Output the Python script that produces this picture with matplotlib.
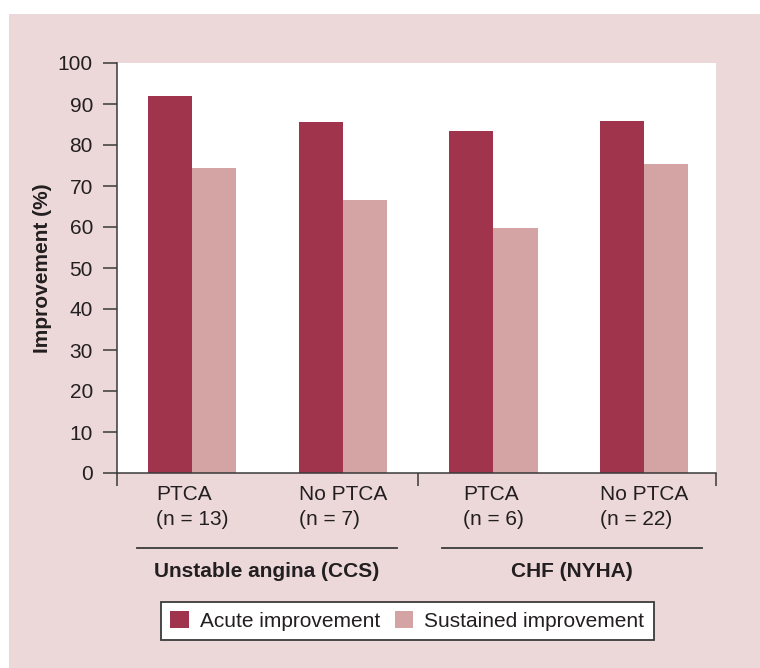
import matplotlib
matplotlib.use('Agg')
import matplotlib.pyplot as plt
import matplotlib.transforms as mtransforms
from matplotlib.patches import Rectangle
from matplotlib.lines import Line2D
import numpy as np

plt.rcParams['font.family'] = ['Liberation Sans', 'DejaVu Sans']

# Data
subgroups = ['PTCA\n(n = 13)', 'No PTCA\n(n = 7)', 'PTCA\n(n = 6)', 'No PTCA\n(n = 22)']
groups = ['Unstable angina (CCS)', 'CHF (NYHA)']
acute = [92.0, 85.6, 83.4, 85.9]
sustained = [74.4, 66.6, 59.8, 75.4]
series_labels = ['Acute improvement', 'Sustained improvement']

acute_color = '#a0344c'
sustained_color = '#d4a3a3'
bg_color = '#ecd8d8'
text_color = '#231f20'
line_color = '#3a3a3a'
fs = 15

fig = plt.figure(figsize=(7.6, 6.68), dpi=100, facecolor='white')
# pink panel behind the chart
fig.patches.append(Rectangle((9 / 760, 0), 1, 1 - 14 / 668, transform=fig.transFigure,
                             facecolor=bg_color, edgecolor='none', zorder=-10))

ax = fig.add_axes([117 / 760, 1 - 473 / 668, 599 / 760, 410 / 668])
ax.set_facecolor('white')

x = np.arange(len(subgroups))
width = 0.294
ax.bar(x - width / 2, acute, width, color=acute_color, label=series_labels[0])
ax.bar(x + width / 2, sustained, width, color=sustained_color, label=series_labels[1])

ax.set_xlim(-0.5, 3.48)
ax.set_ylim(0, 100)
ax.set_yticks(np.arange(0, 101, 10))
ax.set_xticks([-0.5, 1.5, 3.48])
ax.set_xticklabels([])

for side in ['top', 'right']:
    ax.spines[side].set_visible(False)
for side in ['left', 'bottom']:
    ax.spines[side].set_color(line_color)
    ax.spines[side].set_linewidth(1.1)

ax.tick_params(axis='y', direction='out', length=10.3, width=1.1, color=line_color,
               labelsize=fs, labelcolor=text_color, pad=7)
ax.tick_params(axis='x', direction='out', length=9.5, width=1.1, color=line_color)

ax.set_ylabel('Improvement (%)', fontsize=fs, fontweight='bold', color=text_color)
ax.yaxis.set_label_coords(-0.1085, 0.5)

trans = mtransforms.blended_transform_factory(ax.transData, ax.transAxes)
for xi, lab in zip(x, subgroups):
    ax.text(xi, -0.083, lab, transform=trans, ha='center', va='center',
            multialignment='left', fontsize=fs, color=text_color, linespacing=1.45)

# group underlines and labels
spans = [(-0.37, 1.36), (1.66, 3.39)]
for (a, b), g in zip(spans, groups):
    ax.add_line(Line2D([a, b], [-0.183, -0.183], transform=trans, color=line_color,
                       linewidth=1.3, clip_on=False))
    ax.text((a + b) / 2, -0.241, g, transform=trans, ha='center', va='center',
            fontsize=fs, fontweight='bold', color=text_color)

leg = ax.legend(loc='center', bbox_to_anchor=(407.5 / 760, 1 - 621 / 668),
                bbox_transform=fig.transFigure, ncol=2, fontsize=fs, frameon=True,
                fancybox=False, handlelength=0.87, handleheight=0.87,
                handletextpad=0.55, columnspacing=0.7, borderpad=0.45,
                borderaxespad=0)
leg.get_frame().set_edgecolor(line_color)
leg.get_frame().set_linewidth(1.3)
leg.get_frame().set_facecolor('white')
leg.get_frame().set_alpha(1)
for t in leg.get_texts():
    t.set_color(text_color)

fig.savefig('out.png', dpi=100, facecolor=fig.get_facecolor())
